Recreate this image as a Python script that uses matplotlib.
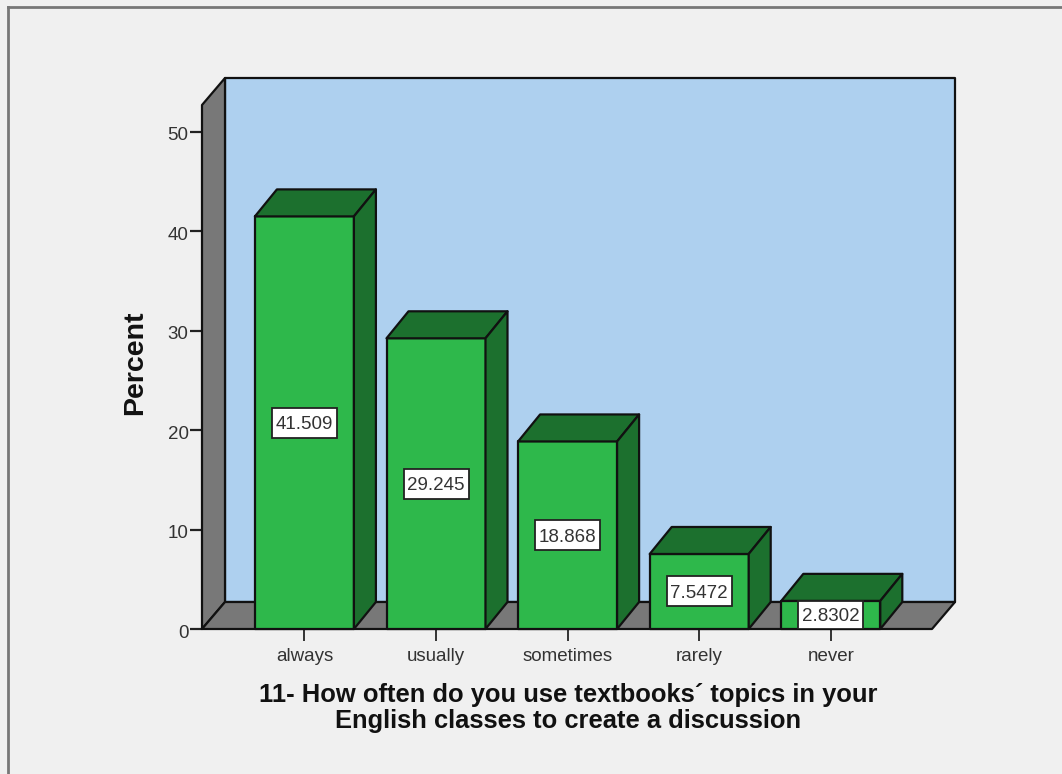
# SPSS style 3D bar chart, textbook topics question

import numpy as np
import matplotlib
matplotlib.use("Agg")
import matplotlib.pyplot as plt
from matplotlib.patches import Polygon, Rectangle
from matplotlib.transforms import ScaledTranslation

categories = ["always", "usually", "sometimes", "rarely", "never"]
percent = [41.509, 29.245, 18.868, 7.5472, 2.8302]
value_labels = ["41.509", "29.245", "18.868", "7.5472", "2.8302"]
y_ticks = [0, 10, 20, 30, 40, 50]

BG = "#f0f0f0"
WALL = "#aed0ef"
GRAY = "#787878"
GREEN = "#2eb84b"
DARK_GREEN = "#1c702e"
EDGE = "#111111"

W, H = 1062, 774

plt.rcParams["font.family"] = ["Liberation Sans", "DejaVu Sans"]

fig = plt.figure(figsize=(W / 100, H / 100), dpi=100, facecolor=BG)

# axes box runs from the front floor corner to the back wall top corner
left, right, top, bottom = 202, 955, 78, 629
ax = fig.add_axes([left / W, 1 - bottom / H, (right - left) / W, (bottom - top) / H])
ax.patch.set_visible(False)

px_per_cat = 131.6
px_per_unit = 9.94
first_center = 304.4

ax.set_xlim((left - first_center) / px_per_cat, (right - first_center) / px_per_cat)
ax.set_ylim(0, (bottom - top) / px_per_unit)

# depth offset and bar width in data units
dx = 23 / px_per_cat
dy = 27 / px_per_unit
bar_dx = 22 / px_per_cat
bar_w = 99 / px_per_cat
box_w = 65 / px_per_cat
box_h = 30 / px_per_unit

x0, x1 = ax.get_xlim()
y1 = ax.get_ylim()[1]
fx1 = x1 - dx  # right end of the front floor edge


def poly(points, color, z=2):
    ax.add_patch(Polygon(points, closed=True, facecolor=color, edgecolor=EDGE,
                         linewidth=1.6, joinstyle="round", clip_on=False, zorder=z))


# back wall, side wall, floor
poly([(x0 + dx, dy), (x1, dy), (x1, y1), (x0 + dx, y1)], WALL)
poly([(x0, 0), (x0 + dx, dy), (x0 + dx, y1), (x0, y1 - dy)], GRAY)
poly([(x0, 0), (fx1, 0), (x1, dy), (x0 + dx, dy)], GRAY)

for i, val in enumerate(percent):
    a = i - bar_w / 2
    b = i + bar_w / 2
    poly([(a, 0), (b, 0), (b, val), (a, val)], GREEN, z=3)
    poly([(a, val), (b, val), (b + bar_dx, val + dy), (a + bar_dx, val + dy)], DARK_GREEN, z=3)
    poly([(b, 0), (b + bar_dx, dy), (b + bar_dx, val + dy), (b, val)], DARK_GREEN, z=3)

    # label box never gets taller than the bar itself
    h = min(box_h, val)
    ax.add_patch(Rectangle((i - box_w / 2, val / 2 - h / 2), box_w, h, facecolor="white",
                           edgecolor="#222222", linewidth=1.3, zorder=4))
    ax.text(i, val / 2, value_labels[i], ha="center", va="center_baseline", fontsize=13.5,
            color="#333333", zorder=5)

for side in ax.spines.values():
    side.set_visible(False)

ax.set_yticks(y_ticks)
ax.set_xticks(range(len(categories)))
ax.set_xticklabels(categories)
ax.tick_params(axis="y", length=8.6, width=1.6, color="#222222", labelsize=13.5,
               labelcolor="#333333", pad=1)
ax.tick_params(axis="x", length=8.6, width=1.4, color="#333333", labelsize=13.5,
               labelcolor="#333333", pad=5)

# y labels sit slightly below their ticks in the original
shift = ScaledTranslation(0, -2 / 100, fig.dpi_scale_trans)
for lbl in ax.get_yticklabels():
    lbl.set_transform(lbl.get_transform() + shift)

ax.text(-169 / px_per_cat, 26.8, "Percent", rotation=90, ha="center", va="center",
        fontsize=20.5, fontweight="bold", color="#111111")

fig.text(568 / W, 1 - 695 / H, "11- How often do you use textbooks\u00b4 topics in your",
         ha="center", va="center", fontsize=18.4, fontweight="bold", color="#111111")
fig.text(568 / W, 1 - 721 / H, "English classes to create a discussion",
         ha="center", va="center", fontsize=18.4, fontweight="bold", color="#111111")

# outer frame, only left and top are visible in the screenshot
fig.add_artist(plt.Line2D([8 / W, 8 / W], [0, 1 - 7 / H], color="#777777", linewidth=2))
fig.add_artist(plt.Line2D([8 / W, 1], [1 - 7 / H, 1 - 7 / H], color="#777777", linewidth=2))

fig.savefig("out.png", dpi=100, facecolor=BG)
